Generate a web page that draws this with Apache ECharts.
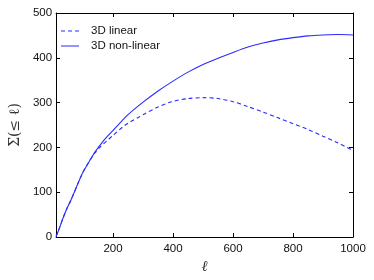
<!DOCTYPE html>
<html><head><meta charset="utf-8">
<script src="https://cdn.jsdelivr.net/npm/echarts@6/dist/echarts.min.js"></script>
<style>html,body{margin:0;padding:0;background:#fff}#c{width:374px;height:280px}</style>
</head><body><div id="c"></div>
<script>
const xTicks = [200, 400, 600, 800, 1000];
const yTicks = [0, 100, 200, 300, 400, 500];
const nonLinearL = [10, 20, 33, 45, 60, 80, 100, 120, 140, 160, 180, 200, 250, 300, 350, 400, 450, 500, 550, 600, 650, 700, 750, 800, 850, 900, 950, 1000];
const nonLinearS = [1, 18, 42, 62, 83, 115, 145, 168, 190, 208, 224, 238, 273, 301, 326, 348, 368, 385, 399, 412, 424, 433, 440, 445, 449, 451, 452, 451];
const linearL = [10, 20, 33, 45, 60, 80, 100, 120, 140, 160, 180, 200, 233, 250, 287, 300, 350, 395, 450, 503, 550, 600, 650, 700, 750, 800, 850, 900, 950, 1000];
const linearS = [1, 18, 42, 62, 83, 115, 145, 168, 188, 203, 215, 227, 246, 254, 268, 273, 290, 302, 309, 311, 309, 302, 291, 279, 266, 253, 240, 225, 210, 193];

const BLUE = '#2a2aff';
const zip = (a, b) => a.map((v, i) => [v, b[i]]);
const tickStyle = {show: true, inside: true, length: 4, lineStyle: {color: '#000', width: 1}};
const lineAx = {show: true, onZero: false, lineStyle: {color: '#000', width: 1}};
const lbl = {color: '#111', fontSize: 11.5, fontFamily: 'Liberation Sans', formatter: v => String(v)};

const chart = echarts.init(document.getElementById('c'), null, {renderer: 'canvas'});
chart.setOption({
  animation: false,
  backgroundColor: '#fff',
  grid: {left: 48, right: 21, top: 13, bottom: 43, containLabel: false},
  legend: {
    orient: 'vertical', left: 61, top: 25, padding: 0, itemWidth: 18, itemHeight: 1.3, itemGap: 3,
    textStyle: {color: '#111', fontSize: 11.5, fontFamily: 'Liberation Sans', padding: [0, 0, 0, 7]},
    data: [
      {name: '3D linear', icon: 'path://M0,0h4v1h-4z M7,0h4v1h-4z M14,0h4v1h-4z'},
      {name: '3D non-linear', icon: 'path://M0,0h18v1h-18z'}
    ]
  },
  xAxis: [{
    type: 'value', min: 10, max: 1000, position: 'bottom',
    axisLine: lineAx,
    axisTick: Object.assign({customValues: xTicks}, tickStyle),
    axisLabel: Object.assign({customValues: xTicks, margin: 6}, lbl),
    splitLine: {show: false},
    name: 'ℓ', nameLocation: 'middle', nameGap: 22,
    nameTextStyle: {fontFamily: 'DejaVu Serif', fontStyle: 'italic', fontSize: 15, color: '#333'}
  }, {
    type: 'value', min: 10, max: 1000, position: 'top',
    axisLine: lineAx,
    axisTick: Object.assign({customValues: xTicks}, tickStyle),
    axisLabel: {show: false}, splitLine: {show: false}
  }],
  yAxis: [{
    type: 'value', min: 0, max: 500, interval: 100, position: 'left',
    axisLine: lineAx, axisTick: tickStyle,
    axisLabel: Object.assign({margin: 4}, lbl),
    splitLine: {show: false},
    name: 'Σ(≤ ℓ)', nameLocation: 'middle', nameGap: 32, nameRotate: 90,
    nameTextStyle: {fontFamily: 'DejaVu Serif', fontSize: 14, color: '#333'}
  }, {
    type: 'value', min: 0, max: 500, interval: 100, position: 'right',
    axisLine: lineAx, axisTick: tickStyle,
    axisLabel: {show: false}, splitLine: {show: false}
  }],
  series: [{
    name: '3D linear', type: 'line', xAxisIndex: 0, yAxisIndex: 0,
    data: zip(linearL, linearS), showSymbol: false, symbol: 'none', smooth: 0.3,
    lineStyle: {color: BLUE, width: 1.1, type: [4, 3]}, itemStyle: {color: BLUE}
  }, {
    name: '3D non-linear', type: 'line', xAxisIndex: 0, yAxisIndex: 0,
    data: zip(nonLinearL, nonLinearS), showSymbol: false, symbol: 'none', smooth: 0.3,
    lineStyle: {color: BLUE, width: 1.1}, itemStyle: {color: BLUE}
  }]
});
</script></body></html>
